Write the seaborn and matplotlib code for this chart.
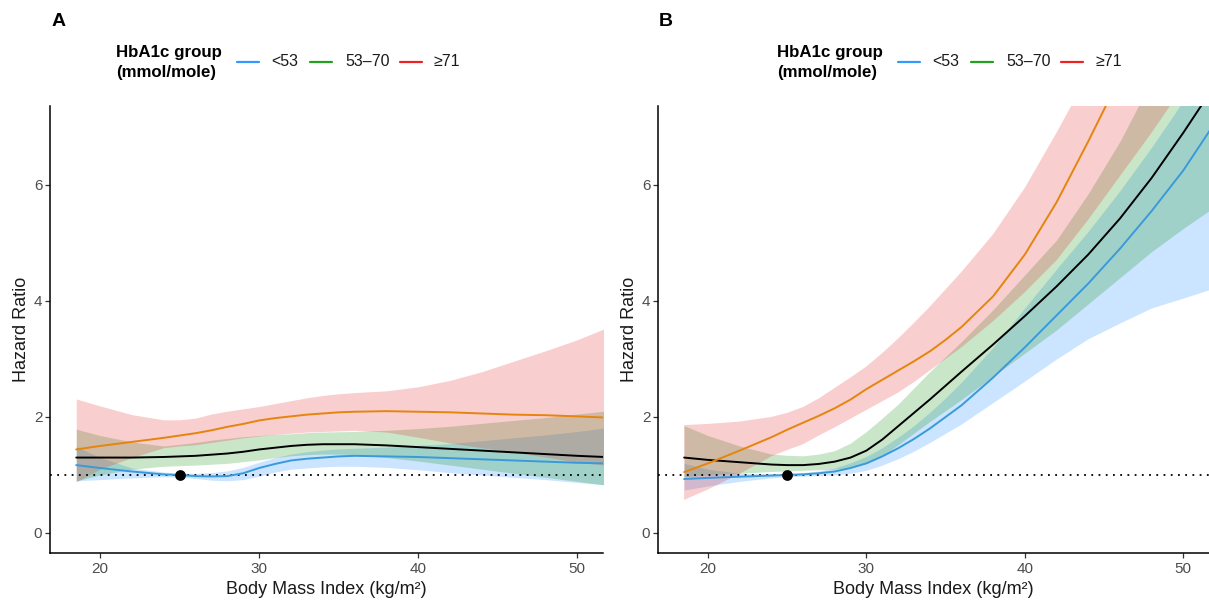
import numpy as np
import pandas as pd
import matplotlib
matplotlib.use("Agg")
import matplotlib.pyplot as plt
from matplotlib.lines import Line2D
import seaborn as sns

# ---------------- data ----------------
GROUPS = ["<53", "53–70", "≥71"]
BMI = [18.5, 20, 22, 24, 25, 26, 27, 28, 29, 30, 31, 32, 33, 34, 35, 36, 38, 40, 42, 44, 46, 48, 50, 51.7]
REF_BMI = 25
REF_HR = 1.0

# Panel A
A_LOW_FIT = [1.17, 1.12, 1.06, 1.01, 1.00, 0.98, 0.975, 0.98, 1.03, 1.12, 1.19, 1.25, 1.28, 1.30, 1.32, 1.33, 1.32, 1.31, 1.29, 1.27, 1.25, 1.23, 1.21, 1.20]
A_LOW_UP = [1.49, 1.30, 1.12, 1.05, 1.03, 1.03, 1.04, 1.07, 1.13, 1.22, 1.30, 1.36, 1.40, 1.43, 1.45, 1.46, 1.48, 1.51, 1.54, 1.59, 1.64, 1.69, 1.75, 1.81]
A_LOW_LO = [0.90, 0.92, 0.95, 0.97, 0.96, 0.94, 0.91, 0.90, 0.92, 0.98, 1.05, 1.10, 1.12, 1.14, 1.15, 1.15, 1.13, 1.09, 1.04, 1.00, 0.96, 0.92, 0.87, 0.83]
A_MID_FIT = [1.30, 1.30, 1.30, 1.31, 1.32, 1.33, 1.35, 1.37, 1.40, 1.44, 1.47, 1.50, 1.52, 1.53, 1.53, 1.53, 1.51, 1.48, 1.45, 1.42, 1.39, 1.36, 1.33, 1.31]
A_MID_UP = [1.79, 1.68, 1.57, 1.50, 1.53, 1.56, 1.60, 1.63, 1.66, 1.68, 1.70, 1.71, 1.73, 1.74, 1.745, 1.75, 1.77, 1.80, 1.84, 1.89, 1.94, 1.99, 2.05, 2.10]
A_MID_LO = [0.90, 1.00, 1.10, 1.15, 1.16, 1.17, 1.185, 1.20, 1.23, 1.26, 1.30, 1.33, 1.35, 1.36, 1.36, 1.35, 1.30, 1.24, 1.17, 1.10, 1.03, 0.96, 0.89, 0.83]
A_HIGH_FIT = [1.44, 1.50, 1.57, 1.64, 1.68, 1.72, 1.77, 1.83, 1.88, 1.94, 1.98, 2.01, 2.04, 2.06, 2.08, 2.09, 2.10, 2.09, 2.08, 2.06, 2.04, 2.03, 2.01, 1.99]
A_HIGH_UP = [2.31, 2.19, 2.04, 1.95, 1.95, 1.98, 2.05, 2.10, 2.14, 2.18, 2.23, 2.28, 2.33, 2.37, 2.40, 2.42, 2.45, 2.52, 2.63, 2.78, 2.96, 3.14, 3.33, 3.52]
A_HIGH_LO = [0.88, 1.10, 1.30, 1.47, 1.50, 1.52, 1.56, 1.60, 1.64, 1.67, 1.70, 1.72, 1.74, 1.75, 1.76, 1.77, 1.74, 1.65, 1.55, 1.47, 1.39, 1.31, 1.22, 1.17]

# Panel B
B_LOW_FIT = [0.93, 0.95, 0.97, 0.99, 1.00, 1.01, 1.03, 1.06, 1.12, 1.20, 1.32, 1.46, 1.62, 1.80, 2.00, 2.20, 2.68, 3.20, 3.75, 4.30, 4.90, 5.55, 6.25, 6.95]
B_LOW_UP = [1.20, 1.10, 1.03, 1.02, 1.03, 1.04, 1.07, 1.12, 1.21, 1.32, 1.47, 1.65, 1.85, 2.08, 2.33, 2.60, 3.20, 3.88, 4.55, 5.20, 5.90, 6.65, 7.45, 8.20]
B_LOW_LO = [0.74, 0.81, 0.89, 0.95, 0.97, 0.98, 0.99, 1.00, 1.03, 1.08, 1.17, 1.28, 1.41, 1.56, 1.72, 1.88, 2.25, 2.62, 3.00, 3.35, 3.62, 3.88, 4.05, 4.20]
B_MID_FIT = [1.30, 1.26, 1.22, 1.18, 1.17, 1.17, 1.19, 1.23, 1.30, 1.42, 1.61, 1.84, 2.07, 2.30, 2.54, 2.78, 3.25, 3.74, 4.25, 4.80, 5.42, 6.12, 6.90, 7.60]
B_MID_UP = [1.85, 1.68, 1.50, 1.36, 1.34, 1.33, 1.36, 1.42, 1.55, 1.75, 1.98, 2.22, 2.50, 2.78, 3.04, 3.30, 3.85, 4.45, 5.05, 5.85, 6.75, 7.80, 8.70, 9.50]
B_MID_LO = [0.97, 1.00, 1.03, 1.06, 1.07, 1.08, 1.09, 1.10, 1.13, 1.20, 1.33, 1.52, 1.72, 1.92, 2.11, 2.30, 2.70, 3.10, 3.50, 3.95, 4.40, 4.85, 5.25, 5.57]
B_HIGH_FIT = [1.05, 1.20, 1.42, 1.65, 1.78, 1.90, 2.02, 2.15, 2.30, 2.48, 2.64, 2.80, 2.96, 3.13, 3.33, 3.55, 4.08, 4.80, 5.70, 6.75, 7.85, 8.90, 9.90, 10.70]
B_HIGH_UP = [1.86, 1.88, 1.92, 2.00, 2.07, 2.17, 2.32, 2.50, 2.68, 2.87, 3.10, 3.35, 3.62, 3.90, 4.20, 4.50, 5.15, 5.95, 6.90, 7.90, 8.90, 9.90, 10.90, 11.80]
B_HIGH_LO = [0.57, 0.75, 1.02, 1.32, 1.43, 1.53, 1.68, 1.82, 1.97, 2.12, 2.27, 2.42, 2.60, 2.80, 3.00, 3.20, 3.65, 4.15, 4.70, 5.40, 6.15, 6.90, 7.70, 8.40]

X_TICKS = [20, 30, 40, 50]
Y_TICKS = [0, 2, 4, 6]
PANEL_LABELS = ["A", "B"]

# ---------------- styling ----------------
sns.set_theme(style="white")
plt.rcParams["font.family"] = ["Liberation Sans", "DejaVu Sans"]

LEGEND_COLORS = {"<53": "#3399FF", "53–70": "#22A022", "≥71": "#EE2222"}
FILL_COLORS = {"<53": "#0A84FF", "53–70": "#008B00", "≥71": "#E41A1C"}
LINE_COLORS = {"<53": "#3A9AD9", "53–70": "#000000", "≥71": "#E5850E"}

W, H = 1209, 603
fig = plt.figure(figsize=(W / 100, H / 100), dpi=100)


def fx(px):
    return px / W


def fy(py):
    return 1 - py / H


panels = [
    dict(left=50, right=603, fits=[A_LOW_FIT, A_MID_FIT, A_HIGH_FIT],
         ups=[A_LOW_UP, A_MID_UP, A_HIGH_UP], los=[A_LOW_LO, A_MID_LO, A_HIGH_LO],
         label_x=52, leg_off=0),
    dict(left=658, right=1209, fits=[B_LOW_FIT, B_MID_FIT, B_HIGH_FIT],
         ups=[B_LOW_UP, B_MID_UP, B_HIGH_UP], los=[B_LOW_LO, B_MID_LO, B_HIGH_LO],
         label_x=659, leg_off=661),
]

for p, plabel in zip(panels, PANEL_LABELS):
    left, right = p["left"], p["right"]
    ax = fig.add_axes([fx(left), fy(553), (right - left) / W, (553 - 106) / H])

    rows = []
    for g, fit in zip(GROUPS, p["fits"]):
        for x, y in zip(BMI, fit):
            rows.append({"bmi": x, "hr": y, "group": g})
    df = pd.DataFrame(rows)

    # confidence ribbons
    for g, up, lo in zip(GROUPS, p["ups"], p["los"]):
        ax.fill_between(BMI, lo, up, color=FILL_COLORS[g], alpha=0.21, linewidth=0)

    ax.axhline(REF_HR, color="black", lw=1.3, linestyle=(0, (1, 3)), zorder=3)

    sns.lineplot(data=df, x="bmi", y="hr", hue="group", hue_order=GROUPS,
                 palette=LINE_COLORS, legend=False, ax=ax, lw=1.4,
                 errorbar=None, zorder=4)
    sns.scatterplot(x=[REF_BMI], y=[REF_HR], color="black", s=60, ax=ax,
                    zorder=5, edgecolor="black", linewidth=0)

    ax.set_xlim(16.85, 51.62)
    ax.set_ylim(-0.345, 7.36)
    ax.set_xticks(X_TICKS)
    ax.set_yticks(Y_TICKS)
    ax.set_xlabel("Body Mass Index (kg/m²)", fontsize=13, color="#1a1a1a")
    ax.set_ylabel("Hazard Ratio", fontsize=13, color="#1a1a1a")
    ax.xaxis.set_label_coords(0.5, -0.062)
    ax.yaxis.set_label_coords(-0.036, 0.5)
    for s in ["top", "right"]:
        ax.spines[s].set_visible(False)
    for s in ["left", "bottom"]:
        ax.spines[s].set_color("black")
        ax.spines[s].set_linewidth(1.1)
    ax.tick_params(axis="both", length=3.5, width=0.9, color="#333333",
                   labelcolor="#4D4D4D", labelsize=11, bottom=True, left=True)
    ax.tick_params(axis="x", pad=3)
    ax.tick_params(axis="y", pad=2)
    ax.grid(False)

    # panel tag
    fig.text(fx(p["label_x"]), fy(21), plabel, fontsize=14, fontweight="bold",
             ha="left", va="center", color="black")

    # legend (title on the left, keys in one row)
    o = p["leg_off"]
    fig.text(fx(116 + o), fy(53), "HbA1c group", fontsize=12.2, fontweight="bold",
             ha="left", va="center", color="black")
    fig.text(fx(116 + o), fy(72), "(mmol/mole)", fontsize=12.2, fontweight="bold",
             ha="left", va="center", color="black")
    key_x = [237, 310, 400]
    lab_x = [271, 345, 434]
    for g, kx, lx in zip(GROUPS, key_x, lab_x):
        fig.add_artist(Line2D([fx(kx + o), fx(kx + 22 + o)], [fy(62), fy(62)],
                              transform=fig.transFigure, color=LEGEND_COLORS[g], lw=1.6))
        fig.text(fx(lx + o), fy(62), g, fontsize=11.5, ha="left", va="center",
                 color="#1a1a1a")

fig.savefig("out.png", dpi=100)
